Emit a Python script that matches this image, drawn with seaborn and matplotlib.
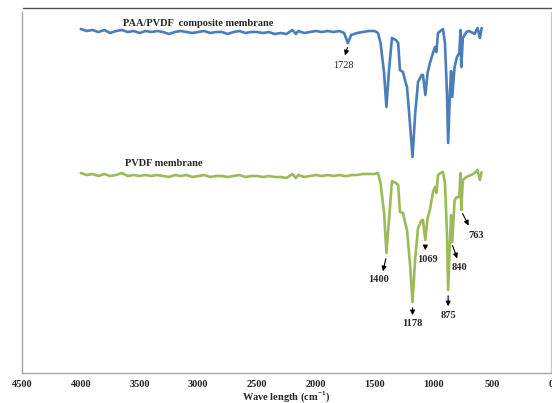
import matplotlib
matplotlib.use("Agg")
import matplotlib.pyplot as plt
import seaborn as sns
import pandas as pd
import numpy as np

sns.set_theme(style="white")
plt.rcParams['font.family'] = ['Liberation Serif', 'DejaVu Serif']
plt.rcParams['mathtext.fontset'] = 'custom'
plt.rcParams['mathtext.rm'] = 'Liberation Serif'
plt.rcParams['mathtext.bf'] = 'Liberation Serif:bold'

# ---- data (transmittance, arbitrary units) ----
wn_comp = [4000, 3950, 3900, 3850, 3800, 3750, 3700, 3650, 3600, 3550, 3500, 3450, 3400,
           3350, 3300, 3250, 3200, 3150, 3100, 3050, 3000, 2950, 2900, 2850, 2800, 2750,
           2700, 2650, 2600, 2550, 2500, 2450, 2400, 2350, 2300, 2250, 2200, 2170, 2150,
           2100, 2050, 2000, 1950, 1900, 1850, 1800, 1760, 1728, 1700, 1650, 1600, 1550,
           1500, 1472, 1450, 1420, 1400, 1380, 1353, 1320, 1300, 1285, 1259, 1240, 1225,
           1200, 1178, 1155, 1131, 1100, 1089, 1069, 1050, 1030, 1004, 987, 975, 961, 940,
           919, 902, 885, 875, 860, 850, 840, 820, 800, 780, 770, 763, 750, 720, 700, 680,
           650, 625, 605, 590]
t_comp = [344, 342, 343, 341, 343, 340, 342, 343, 341, 342, 340, 342, 341,
          342, 341, 339, 341, 342, 341, 340, 341, 342, 340, 341, 341, 339,
          341, 342, 340, 341, 341, 340, 341, 339, 340, 339, 343, 339, 342,
          340, 341, 342, 341, 342, 341, 342, 340, 330, 338, 340, 341, 342,
          342, 340, 330, 300, 266, 300, 335, 333, 330, 303, 301, 292, 286,
          250, 216, 260, 291, 298, 298, 278, 300, 310, 320, 326, 321, 340, 342,
          344, 330, 280, 230, 280, 302, 276, 306, 316, 320, 343, 306, 335, 341, 342, 341,
          339, 345, 335, 345]

wn_pvdf = wn_comp
t_pvdf = [200, 198, 199, 197, 199, 197, 198, 200, 197, 198, 197, 198, 197,
          198, 197, 196, 198, 197, 198, 196, 197, 198, 196, 197, 197, 196,
          197, 198, 196, 197, 197, 196, 197, 196, 196, 195, 199, 195, 198,
          196, 197, 198, 197, 198, 197, 198, 197, 197, 198, 198, 199, 199,
          199, 200, 190, 160, 120, 150, 192, 190, 188, 161, 160, 150, 143,
          110, 71, 115, 145, 153, 153, 133, 155, 163, 181, 186, 180, 198, 200,
          201, 190, 140, 83, 130, 158, 131, 173, 176, 176, 200, 163, 193, 196, 197, 198,
          200, 203, 193, 201]

peak_labels = ['1400', '1178', '1069', '875', '840', '763']
peak_label_wn = [1463, 1178, 1050, 875, 783, 640]
peak_label_t = [93, 49, 114, 58, 106, 138]
peak_arrow_start = [(1400, 117), (1178, 68), (1069, 130), (875, 80), (845, 130), (763, 162)]
peak_arrow_end = [(1435, 99), (1178, 55), (1069, 120), (875, 64), (790, 112), (690, 145)]

comp_label = '1728'

df = pd.concat([
    pd.DataFrame({'wn': wn_comp, 't': t_comp, 'sample': 'PAA/PVDF'}),
    pd.DataFrame({'wn': wn_pvdf, 't': t_pvdf, 'sample': 'PVDF'}),
])

fig = plt.figure(figsize=(5.52, 4.03), dpi=100)
ax = fig.add_axes([22/552, 30/403, 529/552, 361/403])

sns.lineplot(data=df, x='wn', y='t', hue='sample', palette={'PAA/PVDF': '#4a7ebb', 'PVDF': '#9bbb59'},
             linewidth=1.9, legend=False, ax=ax, estimator=None, sort=True)

ax.set_xlim(4500, 0)
ax.set_ylim(0, 361)
ax.set_xticks(np.arange(0, 4501, 500))
ax.set_xticklabels([str(v) for v in np.arange(0, 4501, 500)], fontweight='bold', fontsize=7.5)
ax.set_yticks([])
ax.set_ylabel('')
ax.set_xlabel(r'Wave length (cm$^{\mathbf{-1}}$)', fontweight='bold', fontsize=7.5, labelpad=0)
ax.tick_params(axis='x', direction='in', length=3, width=0.8, color='#c0c0c0', pad=5)

for s in ['left', 'bottom', 'right']:
    ax.spines[s].set_color('#a6a6a6')
    ax.spines[s].set_linewidth(1.0)
ax.spines['right'].set_color('#c8c8c8')
ax.spines['top'].set_visible(False)

# top frame line
fig.add_artist(plt.Line2D([23/552, 1.0], [1 - 8/403, 1 - 8/403], color='#505050', linewidth=1.0))

ax.text(3003, 350, 'PAA/PVDF  composite membrane', fontsize=7.5, fontweight='bold', ha='center', va='center')
ax.text(3292, 209, 'PVDF membrane', fontsize=7.5, fontweight='bold', ha='center', va='center')

# 1728 annotation
ax.annotate('', xy=(1760, 315), xytext=(1725, 328),
            arrowprops=dict(arrowstyle='-|>', color='black', lw=0.8, mutation_scale=7))
ax.text(1770, 307, comp_label, fontsize=7.5, ha='center', va='center')

for lab, x, y, s, e in zip(peak_labels, peak_label_wn, peak_label_t, peak_arrow_start, peak_arrow_end):
    ax.annotate('', xy=e, xytext=s,
                arrowprops=dict(arrowstyle='-|>', color='black', lw=0.8, mutation_scale=7))
    ax.text(x, y, lab, fontsize=7.5, fontweight='bold', ha='center', va='center')

fig.savefig('out.png', dpi=100)
